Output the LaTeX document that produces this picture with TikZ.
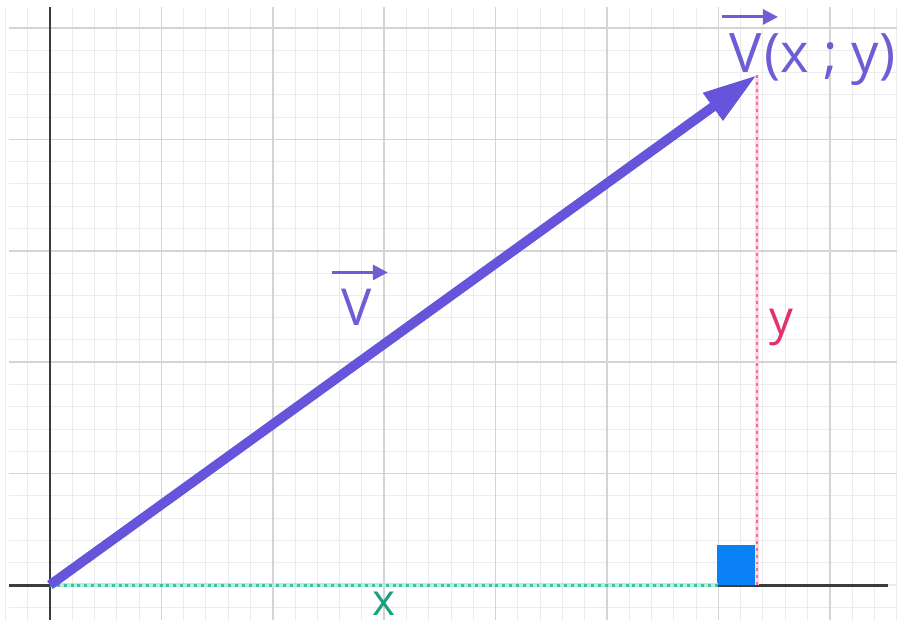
\documentclass[tikz,border=0pt]{standalone}
\usepackage{fontspec}
\setmainfont{Open Sans}
\usetikzlibrary{arrows.meta}
\definecolor{vecc}{RGB}{102,84,218}
\definecolor{labc}{RGB}{110,94,214}
\definecolor{ypink}{RGB}{225,50,110}
\definecolor{xteal}{RGB}{25,160,125}
\definecolor{gband}{RGB}{175,240,225}
\definecolor{gdot}{RGB}{60,195,160}
\definecolor{rband}{RGB}{255,215,225}
\definecolor{rdot}{RGB}{245,110,150}
\definecolor{sqc}{RGB}{10,130,245}
\definecolor{axc}{RGB}{60,60,60}
\definecolor{minorc}{RGB}{236,236,236}
\definecolor{majorc}{RGB}{212,212,212}
\begin{document}
\begin{tikzpicture}[x=0.02cm,y=-0.02cm,
  minorgrid/.style={draw=minorc,line width=0.6pt},
  majorgrid/.style={draw=majorc,line width=1pt},
  axis/.style={draw=axc,line width=1.7pt},
  vecline/.style={draw=vecc,line width=5.5pt,-{Triangle[length=31pt,width=18pt]}},
  ovarrow/.style={draw=labc,line width=1.7pt,-{Triangle[length=8.5pt,width=8.5pt]}},
  gbandline/.style={draw=gband,line width=2.8pt},
  gdotted/.style={draw=gdot,line width=1.7pt,dash pattern=on 1.7pt off 2.2pt},
  rbandline/.style={draw=rband,line width=2.4pt},
  rdotted/.style={draw=rdot,line width=1.5pt,dash pattern=on 1.7pt off 2.2pt},
  sqbox/.style={fill=sqc,inner sep=0,minimum size=22.7pt,anchor=south east},
  lab/.style={inner sep=0,anchor=base west}]
\fill[white] (0,0) rectangle (897,623);
\useasboundingbox (0,0) rectangle (897,623);
% minor grid
\foreach \i in {-2,...,38} \draw[minorgrid] ({50+22.28*\i},7) -- ({50+22.28*\i},620);
\foreach \j in {-25,...,1} \draw[minorgrid] (9,{585+22.28*\j}) -- (897,{585+22.28*\j});
% major grid
\foreach \i in {1,...,7} \draw[majorgrid] ({50+111.4*\i},7) -- ({50+111.4*\i},620);
\foreach \j in {1,...,5} \draw[majorgrid] (9,{585-111.4*\j}) -- (897,{585-111.4*\j});
% axes
\coordinate (O) at (50,585);
\coordinate (axL) at (9,585);
\coordinate (axR) at (888,585);
\coordinate (axT) at (50,7);
\coordinate (axB) at (50,620);
\draw[axis] (axL) -- (axR);
\draw[axis] (axT) -- (axB);
% points
\coordinate (P) at (757,75);
\coordinate (Px) at (757,585);
\coordinate (Xend) at (718,585);
% right-angle square
\node[sqbox] (sq) at (Px) {};
% dotted projections
\draw[gbandline] (O) -- (Xend);
\draw[gdotted] (O) -- (Xend);
\draw[rbandline] (P) -- (Px);
\draw[rdotted] (P) -- (Px);
% vector
\draw[vecline] (O) -- (P);
% labels
\node[lab,text=labc,font=\fontsize{31}{37}\selectfont] (Vtop) at (729,72) {V};
\node[lab,text=labc,font=\fontsize{31}{37}\selectfont] (xy) at ([xshift=1pt]Vtop.base east) {(x ; y)};
\draw[ovarrow] ([shift={(-4pt,9pt)}]Vtop.north west) -- ([shift={(9pt,9pt)}]Vtop.north east);
\node[lab,text=labc,font=\fontsize{29}{35}\selectfont] (Vmid) at (341,325) {V};
\draw[ovarrow] ([shift={(-5pt,9pt)}]Vmid.north west) -- ([shift={(9pt,9pt)}]Vmid.north east);
\node[lab,text=ypink,font=\fontsize{27}{32}\selectfont] (ylab) at (769,334) {y};
\node[lab,text=xteal,font=\fontsize{25}{30}\selectfont] (xlab) at (372,615) {x};
\end{tikzpicture}
\end{document}
